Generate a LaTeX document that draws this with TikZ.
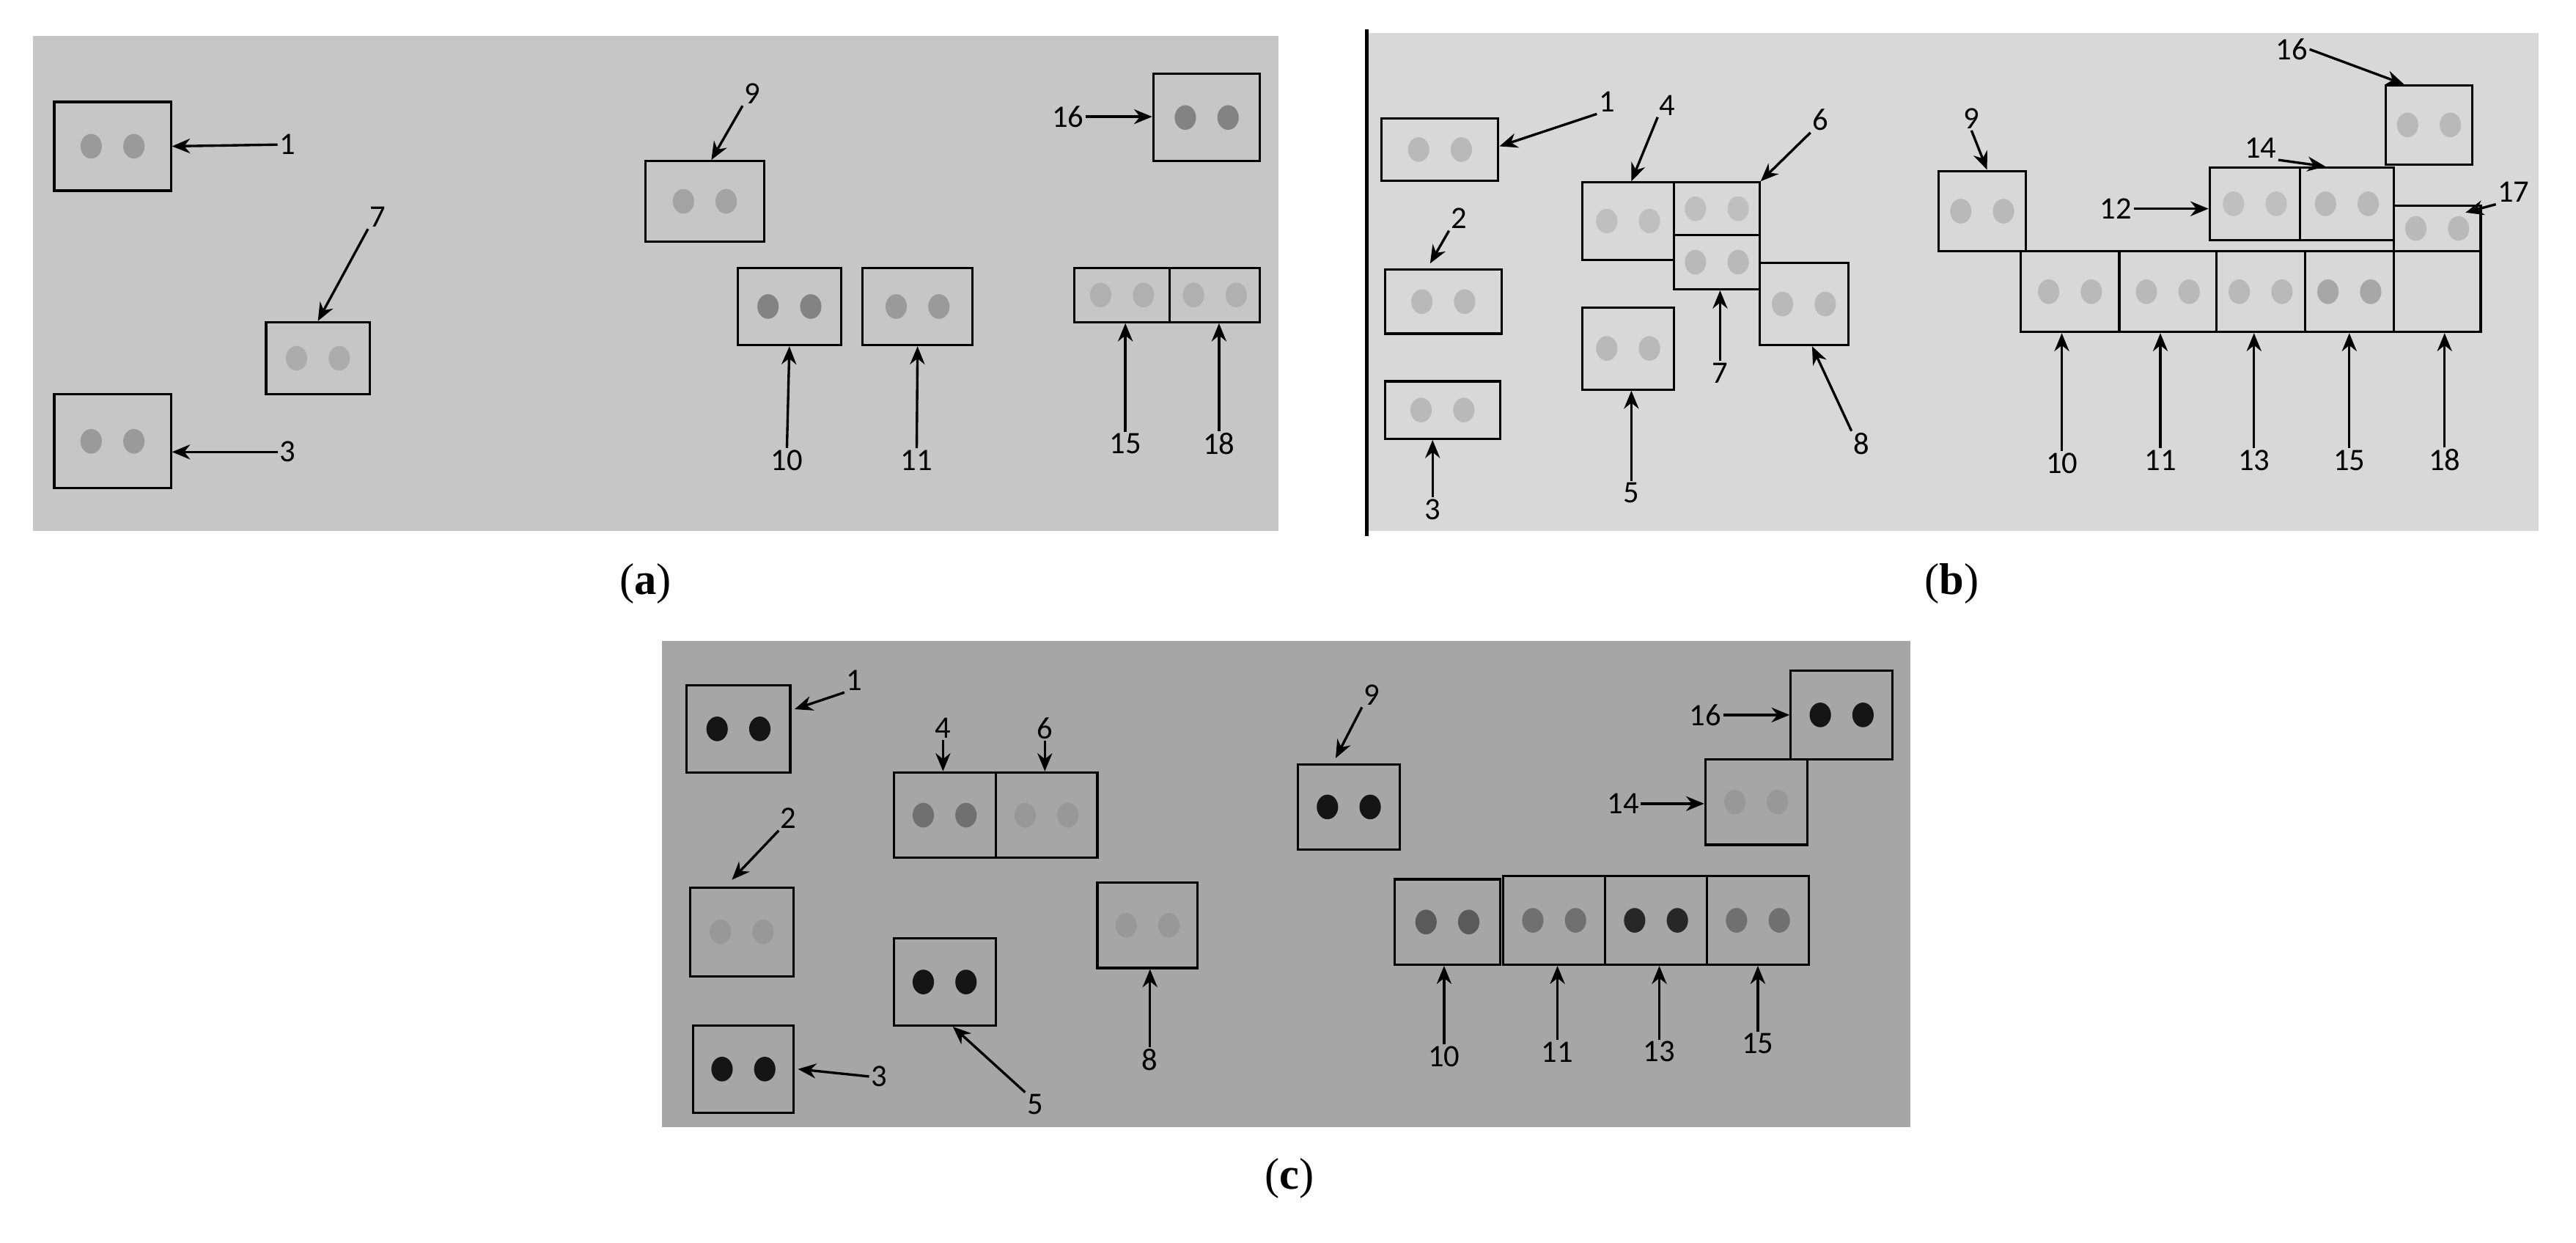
\documentclass[tikz,border=0pt]{standalone}
\usepackage{fontspec}
\setmainfont{Liberation Serif}
\newfontfamily\lab{Carlito}
\usetikzlibrary{fit,calc,arrows.meta}
\definecolor{bga}{HTML}{C6C6C6}
\definecolor{bgb}{HTML}{D8D8D8}
\definecolor{bgc}{HTML}{A6A6A6}
\definecolor{da}{HTML}{9A9A9A}
\definecolor{db}{HTML}{B9B9B9}
\definecolor{dk}{HTML}{151515}
\definecolor{dm}{HTML}{707070}
\definecolor{df}{HTML}{989898}
\newcommand\bx[6]{\node[fit={(#2,#3)(#4,#5)},inner sep=0pt,draw,line width=1.4pt] (#1) {};
 \fill[#6] ($(#1.center)+(-13,0)$) ellipse (6.5 and 7.5);
 \fill[#6] ($(#1.center)+(13,0)$) ellipse (6.5 and 7.5);}
\newcommand\ebx[5]{\node[fit={(#2,#3)(#4,#5)},inner sep=0pt,draw,line width=1.4pt] (#1) {};}
\tikzset{arr/.style={-{Stealth[length=11pt,width=9pt]},line width=1.5pt},
 lbl/.style={font=\lab\fontsize{19}{19}\selectfont,inner sep=1pt},
 captxt/.style={font=\fontsize{27}{27}\selectfont}}
\begin{document}
\begin{tikzpicture}[x=1pt,y=-1pt]
\useasboundingbox[fill=white] (0,0) rectangle (1568,756);
\fill[bga] (20,22) rectangle (778,323);
\fill[bgb] (832,20) rectangle (1545,323);
\draw[line width=2.5pt] (832,18) -- (832,326);
\fill[bgc] (403,390) rectangle (1163,686);
\node[captxt] (ca) at (393,355) {(\textbf{a})};
\node[captxt] (cb) at (1188,355) {(\textbf{b})};
\node[captxt] (cc) at (785,717) {(\textbf{c})};
% panel a
\bx{a1}{33}{62}{104}{116}{da}
\bx{a7}{162}{196}{225}{240}{da!60!bga}
\bx{a3}{33}{240}{104}{297}{da}
\bx{a9}{393}{98}{465}{147}{da!80!bga}
\bx{a10}{449}{163}{512}{210}{da!85!black}
\bx{a11}{525}{163}{592}{210}{da}
\bx{a16}{702}{45}{767}{98}{da!85!black}
\bx{a15}{654}{163}{712}{196}{da!50!bga}
\bx{a18}{712}{163}{767}{196}{da!50!bga}
\node[lbl] (la1) at (175,88) {1};
\node[lbl] (la7) at (230,132) {7};
\node[lbl] (la3) at (175,275) {3};
\node[lbl] (la9) at (458,57) {9};
\node[lbl] (la10) at (479,280) {10};
\node[lbl] (la11) at (558,280) {11};
\node[lbl] (la16) at (650,71) {16};
\node[lbl] (la15) at (685,270) {15};
\node[lbl] (la18) at (742,270) {18};
\draw[arr] (la1.west) -- (a1.east);
\draw[arr] (la7.south west) -- (a7.north);
\draw[arr] (la3.west) -- (a3.east|-la3);
\draw[arr] (la9.south west) -- ($(a9.north)+(4,0)$);
\draw[arr] (la10.north) -- (a10.south);
\draw[arr] (la11.north) -- (a11.south);
\draw[arr] (la16.east) -- (a16.west|-la16);
\draw[arr] (la15.north) -- (a15.south-|la15);
\draw[arr] (la18.north) -- (a18.south-|la18);
% panel b
\bx{b1}{841}{72}{912}{110}{db}
\bx{b2}{843}{164}{914}{203}{db}
\bx{b3}{843}{232}{913}{267}{db}
\bx{b4}{963}{111}{1019}{158}{db!80!bgb}
\bx{b6}{1019}{111}{1071}{143}{db!80!bgb}
\bx{b7}{1019}{143}{1071}{176}{db}
\bx{b5}{963}{187}{1019}{237}{db}
\bx{b8}{1071}{160}{1125}{210}{db}
\bx{b9}{1180}{104}{1233}{153}{db}
\bx{b10}{1230}{153}{1290}{202}{db}
\bx{b11}{1290}{153}{1349}{202}{db}
\bx{b13}{1349}{153}{1403}{202}{db}
\bx{b15}{1403}{153}{1457}{202}{db!90!black}
\ebx{b18}{1457}{153}{1510}{202}
\bx{b12}{1345}{102}{1400}{146}{db!80!bgb}
\bx{b14}{1400}{102}{1457}{146}{db}
\bx{b16}{1452}{52}{1505}{100}{db}
\bx{b17}{1457}{125}{1510}{153}{db}
\node[lbl] (lb1) at (978,62) {1};
\node[lbl] (lb2) at (888,133) {2};
\node[lbl] (lb3) at (872,310) {3};
\node[lbl] (lb4) at (1015,64) {4};
\node[lbl] (lb6) at (1108,73) {6};
\node[lbl] (lb7) at (1047,227) {7};
\node[lbl] (lb5) at (993,300) {5};
\node[lbl] (lb8) at (1133,270) {8};
\node[lbl] (lb9) at (1200,72) {9};
\node[lbl] (lb12) at (1288,127) {12};
\node[lbl] (lb14) at (1376,90) {14};
\node[lbl] (lb16) at (1395,30) {16};
\node[lbl] (lb17) at (1530,117) {17};
\node[lbl] (lb10) at (1255,282) {10};
\node[lbl] (lb11) at (1315,280) {11};
\node[lbl] (lb13) at (1372,280) {13};
\node[lbl] (lb15) at (1430,280) {15};
\node[lbl] (lb18) at (1488,280) {18};
\draw[arr] (lb1.south west) -- ($(b1.east)+(0,-2)$);
\draw[arr] (lb2.south west) -- ($(b2.north)+(-8,-3)$);
\draw[arr] (lb3.north) -- (b3.south-|lb3);
\draw[arr] (lb4.south west) -- ($(b4.north)+(2,0)$);
\draw[arr] (lb6.south west) -- (b6.north east);
\draw[arr] (lb7.north) -- (b7.south-|lb7);
\draw[arr] (lb5.north) -- (b5.south-|lb5);
\draw[arr] (lb8.north west) -- ($(b8.south)+(5,0)$);
\draw[arr] (lb9.south) -- ($(b9.north)+(3,0)$);
\draw[arr] (lb12.east) -- (b12.west|-lb12);
\draw[arr] (lb14.south east) -- ($(b14.north)+(-13,0)$);
\draw[arr] (lb16.east) -- ($(b16.north west)+(12,0)$);
\draw[arr] (lb17.south west) -- ($(b17.north east)+(-10,5)$);
\draw[arr] (lb10.north) -- (b10.south-|lb10);
\draw[arr] (lb11.north) -- (b11.south-|lb11);
\draw[arr] (lb13.north) -- (b13.south-|lb13);
\draw[arr] (lb15.north) -- (b15.south-|lb15);
\draw[arr] (lb18.north) -- (b18.south-|lb18);
% panel c
\bx{c1}{418}{417}{481}{470}{dk}
\bx{c2}{420}{540}{483}{594}{df}
\bx{c3}{422}{624}{483}{677}{dk}
\bx{c4}{544}{470}{606}{522}{dm}
\bx{c6}{606}{470}{668}{522}{df}
\bx{c5}{544}{571}{606}{624}{dk}
\bx{c8}{668}{537}{729}{589}{df}
\bx{c9}{790}{465}{852}{517}{dk}
\bx{c10}{849}{535}{913}{587}{dm!80!black}
\bx{c11}{915}{533}{977}{587}{dm}
\bx{c13}{977}{533}{1039}{587}{dk!80!dm}
\bx{c15}{1039}{533}{1101}{587}{dm}
\bx{c14}{1038}{462}{1100}{514}{df}
\bx{c16}{1090}{408}{1152}{462}{dk}
\node[lbl] (lc1) at (520,414) {1};
\node[lbl] (lc2) at (480,498) {2};
\node[lbl] (lc3) at (535,655) {3};
\node[lbl] (lc4) at (574,443) {4};
\node[lbl] (lc6) at (636,443) {6};
\node[lbl] (lc5) at (630,672) {5};
\node[lbl] (lc8) at (700,645) {8};
\node[lbl] (lc9) at (835,423) {9};
\node[lbl] (lc10) at (879,643) {10};
\node[lbl] (lc11) at (948,640) {11};
\node[lbl] (lc13) at (1010,640) {13};
\node[lbl] (lc15) at (1070,635) {15};
\node[lbl] (lc14) at (988,489) {14};
\node[lbl] (lc16) at (1038,435) {16};
\draw[arr] (lc1.south west) -- ($(c1.east)+(2,-12)$);
\draw[arr] (lc2.south west) -- ($(c2.north)+(-6,-4)$);
\draw[arr] (lc3.west) -- ($(c3.east)+(2,0)$);
\draw[arr] (lc4.south) -- (c4.north-|lc4);
\draw[arr] (lc6.south) -- (c6.north-|lc6);
\draw[arr] (lc5.north west) -- ($(c5.south)+(5,0)$);
\draw[arr] (lc8.north) -- (c8.south-|lc8);
\draw[arr] (lc9.south west) -- ($(c9.north)+(-8,-3)$);
\draw[arr] (lc10.north) -- (c10.south-|lc10);
\draw[arr] (lc11.north) -- (c11.south-|lc11);
\draw[arr] (lc13.north) -- (c13.south-|lc13);
\draw[arr] (lc15.north) -- (c15.south-|lc15);
\draw[arr] (lc14.east) -- (c14.west|-lc14);
\draw[arr] (lc16.east) -- (c16.west|-lc16);
\end{tikzpicture}
\end{document}
